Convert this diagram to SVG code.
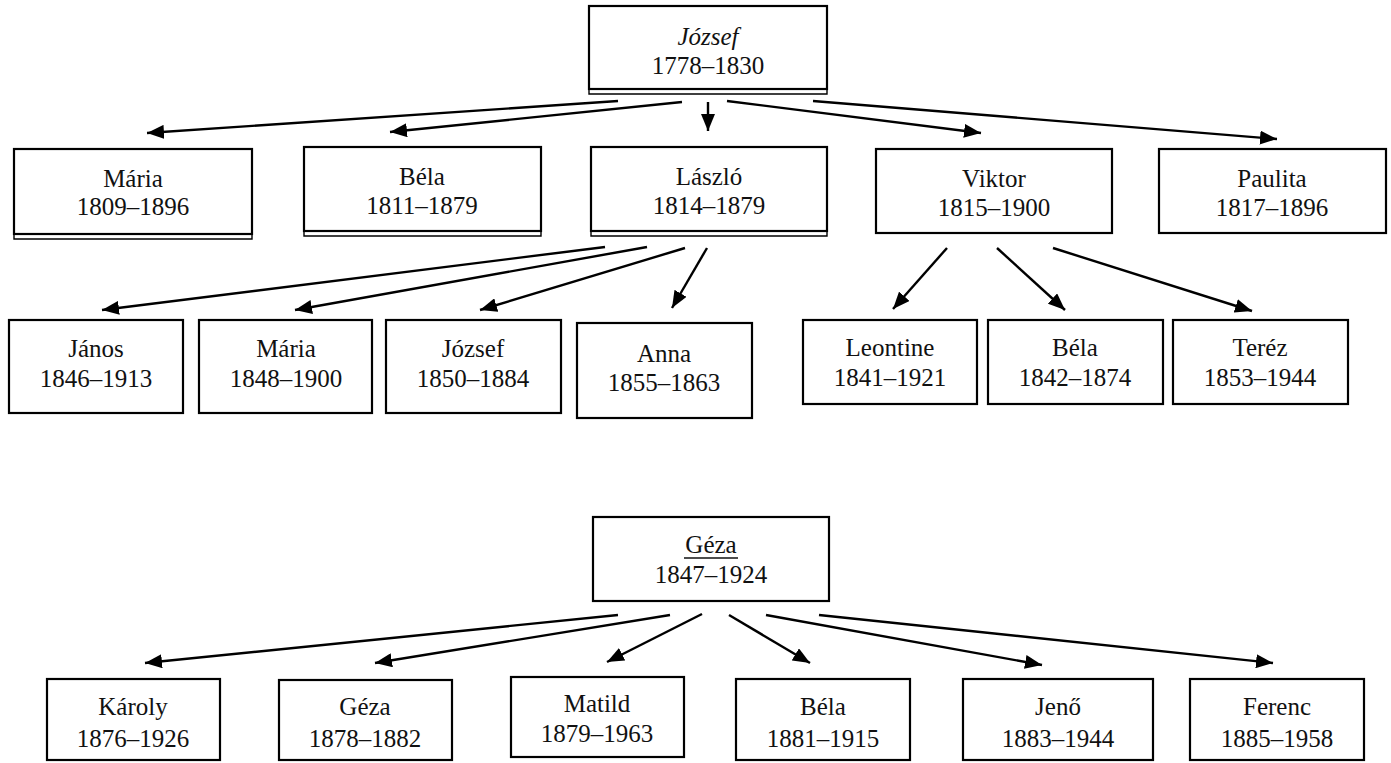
<svg xmlns="http://www.w3.org/2000/svg" width="1391" height="763" viewBox="0 0 1391 763">
<defs>
<marker id="ah" markerUnits="userSpaceOnUse" markerWidth="18" markerHeight="14" refX="17" refY="7" orient="auto">
<path d="M0,0 L17,7 L0,14 z" fill="#000"/>
</marker>
<style>
.box{fill:#fff;stroke:#000;stroke-width:2.2}
.dbl{fill:none;stroke:#000;stroke-width:1.4}
.t{font-family:"Liberation Serif","DejaVu Serif",serif;font-size:25px;fill:#111;text-anchor:middle}
.c line{stroke:#000;stroke-width:2.4;marker-end:url(#ah)}
</style>
</defs>
<rect width="1391" height="763" fill="#fff"/>

<g class="c" id="connectors">
<line x1="618" y1="101" x2="147" y2="133"/>
<line x1="682" y1="102" x2="390" y2="132"/>
<line x1="708" y1="102" x2="708" y2="131"/>
<line x1="727" y1="101" x2="981" y2="133"/>
<line x1="813" y1="101" x2="1277" y2="139"/>
<line x1="605" y1="247" x2="102" y2="310"/>
<line x1="647" y1="247" x2="295" y2="310"/>
<line x1="685" y1="248" x2="480" y2="310"/>
<line x1="707" y1="248" x2="672" y2="308"/>
<line x1="947" y1="248" x2="893" y2="309"/>
<line x1="997" y1="248" x2="1065" y2="310"/>
<line x1="1053" y1="248" x2="1252" y2="311"/>
<line x1="618" y1="615" x2="145" y2="663"/>
<line x1="670" y1="615" x2="375" y2="663"/>
<line x1="702" y1="614" x2="607" y2="662"/>
<line x1="729" y1="615" x2="810" y2="663"/>
<line x1="766" y1="615" x2="1042" y2="665"/>
<line x1="819" y1="615" x2="1273" y2="663"/>
</g>

<g id="jozsef-root">
<rect class="box" x="589" y="6" width="238" height="83"/>
<path class="dbl" d="M589,89 V94 H827 V89"/>
<text class="t" x="708" y="45" font-style="italic">József</text>
<text class="t" x="708" y="74">1778–1830</text>
</g>

<g id="maria1">
<rect class="box" x="14" y="149" width="238" height="85"/>
<path class="dbl" d="M14,234 V239 H252 V234"/>
<text class="t" x="133" y="187">Mária</text>
<text class="t" x="133" y="215">1809–1896</text>
</g>
<g id="bela1">
<rect class="box" x="304" y="147" width="237" height="84"/>
<path class="dbl" d="M304,231 V236 H541 V231"/>
<text class="t" x="422" y="185">Béla</text>
<text class="t" x="422" y="214">1811–1879</text>
</g>
<g id="laszlo">
<rect class="box" x="591" y="147" width="236" height="84"/>
<path class="dbl" d="M591,231 V236 H827 V231"/>
<text class="t" x="709" y="185">László</text>
<text class="t" x="709" y="214">1814–1879</text>
</g>
<g id="viktor">
<rect class="box" x="876" y="149" width="236" height="84"/>
<text class="t" x="994" y="187">Viktor</text>
<text class="t" x="994" y="216">1815–1900</text>
</g>
<g id="paulita">
<rect class="box" x="1159" y="149" width="227" height="84"/>
<text class="t" x="1272" y="187">Paulita</text>
<text class="t" x="1272" y="216">1817–1896</text>
</g>

<g id="janos">
<rect class="box" x="9" y="320" width="174" height="93"/>
<text class="t" x="96" y="357">János</text>
<text class="t" x="96" y="387">1846–1913</text>
</g>
<g id="maria2">
<rect class="box" x="199" y="320" width="173" height="93"/>
<text class="t" x="286" y="357">Mária</text>
<text class="t" x="286" y="387">1848–1900</text>
</g>
<g id="jozsef2">
<rect class="box" x="386" y="320" width="175" height="93"/>
<text class="t" x="473" y="357">József</text>
<text class="t" x="473" y="387">1850–1884</text>
</g>
<g id="anna">
<rect class="box" x="577" y="323" width="175" height="95"/>
<text class="t" x="664" y="362">Anna</text>
<text class="t" x="664" y="391">1855–1863</text>
</g>
<g id="leontine">
<rect class="box" x="803" y="320" width="174" height="84"/>
<text class="t" x="890" y="356">Leontine</text>
<text class="t" x="890" y="386">1841–1921</text>
</g>
<g id="bela2">
<rect class="box" x="988" y="320" width="175" height="84"/>
<text class="t" x="1075" y="356">Béla</text>
<text class="t" x="1075" y="386">1842–1874</text>
</g>
<g id="terez">
<rect class="box" x="1173" y="320" width="175" height="84"/>
<text class="t" x="1260" y="356">Teréz</text>
<text class="t" x="1260" y="386">1853–1944</text>
</g>

<g id="geza-root">
<rect class="box" x="593" y="517" width="236" height="84"/>
<text class="t" x="711" y="553">Géza</text>
<line x1="684" y1="558" x2="738" y2="558" stroke="#111" stroke-width="1.6"/>
<text class="t" x="711" y="583">1847–1924</text>
</g>

<g id="karoly">
<rect class="box" x="47" y="679" width="173" height="81"/>
<text class="t" x="133" y="715">Károly</text>
<text class="t" x="133" y="747">1876–1926</text>
</g>
<g id="geza2">
<rect class="box" x="279" y="680" width="173" height="80"/>
<text class="t" x="365" y="715">Géza</text>
<text class="t" x="365" y="747">1878–1882</text>
</g>
<g id="matild">
<rect class="box" x="511" y="677" width="173" height="80"/>
<text class="t" x="597" y="712">Matild</text>
<text class="t" x="597" y="742">1879–1963</text>
</g>
<g id="bela3">
<rect class="box" x="736" y="679" width="174" height="81"/>
<text class="t" x="823" y="715">Béla</text>
<text class="t" x="823" y="747">1881–1915</text>
</g>
<g id="jeno">
<rect class="box" x="963" y="679" width="190" height="81"/>
<text class="t" x="1058" y="715">Jenő</text>
<text class="t" x="1058" y="747">1883–1944</text>
</g>
<g id="ferenc">
<rect class="box" x="1190" y="679" width="174" height="81"/>
<text class="t" x="1277" y="715">Ferenc</text>
<text class="t" x="1277" y="747">1885–1958</text>
</g>
</svg>
